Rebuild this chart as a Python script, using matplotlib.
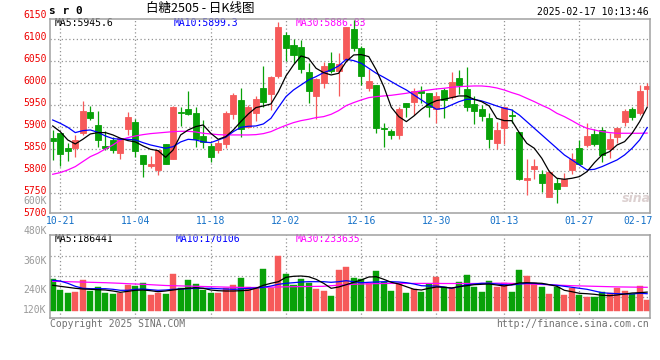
import matplotlib
matplotlib.use('Agg')
import matplotlib.pyplot as plt
import matplotlib.transforms as mtrans

plt.rcParams['font.family'] = ['DejaVu Sans Mono', 'Noto Sans CJK SC']

# ---------------- data ----------------
date_labels = ['10-21', '11-04', '11-18', '12-02', '12-16', '12-30', '01-13', '01-27', '02-17']
date_index = [1, 11, 21, 31, 41, 51, 60, 70, 79]

opens = [5875, 5888, 5854, 5852, 5888, 5934, 5905, 5858, 5870, 5841,
         5897, 5912, 5837, 5811, 5802, 5861, 5829, 5935, 5942, 5932,
         5880, 5858, 5849, 5861, 5930, 5962, 5900, 5932, 5989, 5976,
         6017, 6110, 6087, 6083, 6026, 5972, 6000, 6045, 6027, 6055,
         6123, 6081, 5990, 5996, 5898, 5892, 5883, 5955, 5958, 5983,
         5977, 5941, 5985, 5968, 6012, 5987, 5953, 5942, 5922, 5864,
         5898, 5929, 5889, 5781, 5806, 5794, 5742, 5773, 5767, 5802,
         5853, 5860, 5884, 5894, 5850, 5879, 5911, 5942, 5933, 5987]
closes = [5868, 5839, 5845, 5871, 5937, 5920, 5870, 5854, 5848, 5875,
          5923, 5845, 5817, 5817, 5849, 5817, 5945, 5933, 5931, 5874,
          5866, 5833, 5864, 5932, 5973, 5897, 5945, 5964, 5958, 6014,
          6127, 6081, 6064, 6033, 5983, 6010, 6039, 6029, 6043, 6127,
          6081, 6017, 6005, 5899, 5895, 5883, 5942, 5945, 5983, 5977,
          5945, 5971, 5961, 6003, 5995, 5947, 5936, 5926, 5873, 5894,
          5947, 5926, 5783, 5785, 5812, 5774, 5799, 5759, 5782, 5827,
          5817, 5880, 5861, 5838, 5873, 5898, 5936, 5924, 5983, 5994]
highs = [5894, 5888, 5864, 5883, 5960, 5949, 5938, 5892, 5879, 5875,
         5935, 5918, 5837, 5835, 5849, 5862, 5948, 5945, 5983, 5945,
         5917, 5864, 5871, 5937, 5977, 5990, 5950, 5970, 6039, 6017,
         6140, 6117, 6100, 6099, 6045, 6011, 6049, 6070, 6068, 6129,
         6144, 6085, 6032, 5996, 5909, 5895, 5945, 5955, 5989, 5994,
         5977, 5981, 5989, 6025, 6030, 6037, 5971, 5950, 5932, 5913,
         5949, 5941, 5889, 5827, 5829, 5803, 5803, 5784, 5795, 5841,
         5871, 5910, 5896, 5900, 5886, 5900, 5942, 5947, 5996, 6000]
lows = [5826, 5813, 5824, 5833, 5883, 5917, 5856, 5848, 5842, 5827,
        5883, 5833, 5788, 5807, 5792, 5817, 5829, 5903, 5928, 5856,
        5852, 5820, 5841, 5854, 5918, 5879, 5898, 5915, 5947, 5939,
        6011, 6051, 6047, 6024, 5955, 5918, 5989, 6023, 5970, 6049,
        6074, 5995, 5983, 5886, 5856, 5873, 5873, 5924, 5928, 5956,
        5924, 5909, 5922, 5964, 5976, 5936, 5907, 5914, 5854, 5850,
        5861, 5909, 5780, 5745, 5783, 5753, 5742, 5727, 5767, 5794,
        5817, 5856, 5858, 5822, 5830, 5864, 5902, 5917, 5927, 5948]

ma5 = [5903.0, 5890.1, 5871.2, 5862.1, 5872.7, 5884.8, 5887.9, 5887.9, 5882.6, 5875.0,
       5869.7, 5866.7, 5857.6, 5850.0, 5847.0, 5831.8, 5848.5, 5882.6, 5893.9, 5901.5,
       5905.3, 5886.4, 5872.7, 5878.8, 5893.9, 5912.9, 5930.3, 5944.7, 5948.5, 5953.0,
       5981.1, 6016.7, 6041.7, 6062.1, 6056.8, 6034.1, 6024.2, 6018.9, 6022.7, 6049.2,
       6064.4, 6065.2, 6060.6, 6030.3, 5992.4, 5945.4, 5924.2, 5912.9, 5925.7, 5940.9,
       5953.0, 5960.6, 5963.6, 5967.4, 5971.2, 5971.2, 5963.6, 5958.3, 5948.5, 5920.4,
       5915.1, 5915.1, 5887.9, 5863.6, 5852.3, 5829.5, 5799.2, 5784.1, 5781.8, 5784.1,
       5787.9, 5799.2, 5819.7, 5837.1, 5844.7, 5859.8, 5867.4, 5886.4, 5912.9, 5945.6]
ma10 = [5916.6, 5909.1, 5900.0, 5887.9, 5892.4, 5893.9, 5888.6, 5880.3, 5874.2, 5872.7,
        5872.7, 5871.2, 5865.1, 5859.8, 5856.0, 5852.3, 5856.0, 5866.7, 5872.7, 5871.2,
        5866.7, 5865.1, 5871.2, 5877.3, 5890.1, 5900.0, 5902.3, 5903.0, 5907.6, 5920.4,
        5945.4, 5969.7, 5984.8, 5996.2, 6007.6, 6015.2, 6024.2, 6030.3, 6039.4, 6054.5,
        6051.5, 6045.5, 6034.1, 6022.7, 6013.6, 6003.8, 5993.9, 5984.8, 5973.5, 5962.1,
        5950.8, 5940.9, 5943.2, 5950.8, 5958.3, 5963.6, 5963.6, 5959.9, 5954.5, 5948.5,
        5943.2, 5939.4, 5928.0, 5912.9, 5897.7, 5882.6, 5867.4, 5852.3, 5837.1, 5825.8,
        5814.4, 5803.0, 5804.5, 5810.6, 5818.2, 5825.8, 5837.1, 5852.3, 5871.2, 5899.3]
ma30 = [5793.2, 5797.0, 5803.0, 5810.6, 5822.0, 5833.3, 5840.9, 5850.8, 5859.8, 5871.2,
        5876.5, 5880.3, 5883.3, 5885.6, 5887.1, 5888.6, 5890.1, 5890.9, 5890.9, 5889.4,
        5886.4, 5884.8, 5883.3, 5882.6, 5882.6, 5882.6, 5882.6, 5883.3, 5885.6, 5890.1,
        5897.7, 5904.5, 5910.6, 5915.1, 5918.2, 5922.0, 5924.2, 5929.5, 5937.9, 5949.2,
        5956.1, 5962.1, 5967.4, 5969.7, 5971.2, 5972.7, 5975.0, 5977.3, 5980.3, 5982.6,
        5984.8, 5987.1, 5988.6, 5990.9, 5992.4, 5993.2, 5993.9, 5993.9, 5992.4, 5989.4,
        5984.8, 5978.8, 5973.5, 5965.9, 5958.3, 5950.0, 5942.4, 5931.8, 5924.2, 5915.1,
        5905.3, 5897.7, 5893.9, 5890.1, 5887.9, 5886.4, 5886.4, 5886.4, 5886.4, 5886.83]

# volume in thousands of lots
volumes = [320, 210, 180, 190, 310, 200, 237, 180, 170, 174,
           260, 247, 277, 157, 180, 167, 370, 230, 307, 267,
           207, 180, 180, 224, 257, 324, 240, 224, 417, 224,
           550, 367, 257, 314, 280, 217, 197, 147, 407, 440,
           324, 314, 280, 397, 290, 197, 274, 180, 217, 190,
           264, 340, 240, 230, 290, 357, 240, 190, 300, 240,
           280, 190, 407, 350, 280, 240, 167, 240, 157, 224,
           157, 140, 140, 190, 180, 224, 197, 167, 247, 107]
vol_ma5 = [254, 244, 234, 224, 217, 214, 210, 207, 197, 184,
           194, 204, 207, 200, 190, 197, 207, 217, 224, 230,
           224, 207, 200, 197, 197, 200, 204, 224, 254, 274,
           290, 334, 344, 347, 340, 314, 274, 224, 237, 260,
           284, 307, 337, 340, 314, 284, 267, 240, 214, 207,
           224, 237, 234, 227, 240, 250, 260, 264, 267, 257,
           247, 260, 277, 280, 277, 274, 260, 244, 204, 190,
           174, 170, 164, 154, 150, 157, 167, 177, 180, 186]
vol_ma10 = [304, 297, 274, 244, 224, 220, 220, 220, 214, 204,
            204, 214, 217, 210, 204, 207, 214, 217, 220, 224,
            224, 224, 220, 217, 214, 217, 224, 227, 234, 247,
            264, 274, 280, 287, 290, 290, 290, 284, 290, 300,
            290, 280, 284, 287, 290, 290, 287, 280, 267, 250,
            247, 247, 237, 224, 240, 260, 267, 274, 274, 267,
            260, 257, 267, 274, 274, 267, 260, 254, 244, 234,
            224, 214, 197, 180, 174, 170, 167, 167, 174, 170]
vol_ma30 = [294, 292, 290, 288, 286, 284, 282, 280, 277, 274,
            270, 267, 264, 260, 256, 252, 250, 248, 246, 244,
            242, 240, 238, 236, 234, 233, 232, 232, 233, 235,
            237, 239, 240, 241, 242, 243, 244, 250, 255, 260,
            264, 267, 269, 271, 272, 273, 273, 273, 273, 273,
            273, 273, 272, 272, 272, 272, 272, 273, 274, 275,
            275, 273, 271, 268, 265, 262, 259, 256, 253, 250,
            248, 246, 244, 242, 240, 238, 237, 236, 235, 234]

price_labels = [6150, 6100, 6050, 6000, 5950, 5900, 5850, 5800, 5750, 5700]
vol_tick_values = [10, 207, 500]
vol_tick_labels = ['120K', '240K', '360K']
vol_extra_values = [800, 1097]
vol_extra_labels = ['480K', '600K']

title = '白糖2505 - 日K线图'
symbol = 's r 0'
stamp = '2025-02-17 10:13:46'
ma_price_text = ['MA5:5945.6', 'MA10:5899.3', 'MA30:5886.83']
ma_vol_text = ['MA5:186441', 'MA10:170106', 'MA30:233635']

# ---------------- style ----------------
RED = '#f65a5a'
GREEN = '#08a108'
GRID = '#939393'
SPINE = '#a0a0a0'
W, H = 660, 360

fig = plt.figure(figsize=(6.6, 3.6), dpi=100)
fig.patch.set_facecolor('white')


def rect(l, t, r, b):
    return [l / W, 1 - b / H, (r - l) / W, (b - t) / H]


axp = fig.add_axes(rect(50, 19, 649.5, 213.3))
axv = fig.add_axes(rect(50, 234.7, 649.5, 318))

n = len(closes)
xs = list(range(n))
for ax in (axp, axv):
    ax.set_xlim(-0.36, 79.31)
    ax.set_xticks([])
    ax.set_yticks([])
    for s in ax.spines.values():
        s.set_color(SPINE)
        s.set_linewidth(1.1)
    for i in date_index[:-1]:
        ax.axvline(i, color=GRID, lw=0.9, ls=(0, (1, 2)), zorder=0)

axp.set_ylim(5704.5, 6146.1)
axv.set_ylim(-73, 760)

for v in [6100, 6050, 6000, 5950, 5900, 5850, 5800, 5750]:
    axp.axhline(v, color=GRID, lw=0.9, ls=(0, (1, 2)), zorder=0)
for v in [552, 344, 135]:
    axv.axhline(v, color=GRID, lw=0.9, ls=(0, (1, 2)), zorder=0)

colors = [RED if c >= o else GREEN for o, c in zip(opens, closes)]
bottoms = [min(o, c) for o, c in zip(opens, closes)]
heights = [abs(c - o) for o, c in zip(opens, closes)]

axp.vlines(xs, lows, highs, colors=colors, lw=0.9, zorder=2)
axp.bar(xs, heights, bottom=bottoms, width=0.8, color=colors,
        edgecolor=colors, linewidth=0.6, zorder=2)
axp.plot(xs, ma30, color='#ff00ff', lw=0.9, zorder=3)
axp.plot(xs, ma10, color='#0000ff', lw=0.9, zorder=3)
axp.plot(xs, ma5, color='black', lw=0.9, zorder=3)

axv.bar(xs, volumes, width=0.8, color=colors, edgecolor=colors, linewidth=0.3, zorder=2)
axv.plot(xs, vol_ma30, color='#ff00ff', lw=0.9, zorder=3)
axv.plot(xs, vol_ma10, color='#0000ff', lw=0.9, zorder=3)
axv.plot(xs, vol_ma5, color='black', lw=0.9, zorder=3)

# price axis labels
tp = mtrans.blended_transform_factory(axp.transAxes, axp.transData) + \
    mtrans.ScaledTranslation(-0.035, 0.02, fig.dpi_scale_trans)
for v in price_labels:
    axp.text(0, v, str(v), transform=tp, ha='right', va='center',
             color='#ee0000', fontsize=7, clip_on=False)

# volume axis labels
tv = mtrans.blended_transform_factory(axv.transAxes, axv.transData) + \
    mtrans.ScaledTranslation(-0.035, 0.0, fig.dpi_scale_trans)
for v, lab in zip(vol_tick_values + vol_extra_values, vol_tick_labels + vol_extra_labels):
    axv.text(0, v, lab, transform=tv, ha='right', va='center',
             color='#9a9a9a', fontsize=7, clip_on=False)

# date labels
tx = mtrans.blended_transform_factory(axp.transData, axp.transAxes) + \
    mtrans.ScaledTranslation(0, -0.077, fig.dpi_scale_trans)
for i, lab in zip(date_index[:-1], date_labels[:-1]):
    axp.text(i, 0, lab, transform=tx, ha='center', va='center',
             color='#1370c8', fontsize=7, clip_on=False)
axp.text(0.981, 0, date_labels[-1], transform=axp.transAxes +
         mtrans.ScaledTranslation(0, -0.077, fig.dpi_scale_trans),
         ha='center', va='center', color='#1370c8', fontsize=7, clip_on=False)

# MA headers
for xf, txt, col in zip([0.0072, 0.207, 0.409], ma_price_text, ['black', '#0000ff', '#ff00ff']):
    axp.text(xf, 0.977, txt, transform=axp.transAxes, ha='left', va='center',
             color=col, fontsize=7, zorder=1.5)
for xf, txt, col in zip([0.008, 0.209, 0.41], ma_vol_text, ['black', '#0000ff', '#ff00ff']):
    axv.text(xf, 0.948, txt, transform=axv.transAxes, ha='left', va='center',
             color=col, fontsize=7, zorder=1.5)

# header texts
fig.text(49 / W, 1 - 11.5 / H, symbol, ha='left', va='center', fontsize=8,
         fontweight='bold', color='black')
fig.text(200 / W, 1 - 8 / H, title, ha='center', va='center', fontsize=9,
         family=['Noto Sans CJK SC', 'DejaVu Sans'], color='black')
fig.text(649 / W, 1 - 12 / H, stamp, ha='right', va='center', fontsize=7, color='black')

# footer
fig.text(50 / W, 1 - 324 / H, 'Copyright 2025 SINA.COM', ha='left', va='center',
         fontsize=7, color='#707070')
fig.text(649 / W, 1 - 324 / H, 'http://finance.sina.com.cn', ha='right', va='center',
         fontsize=7, color='#707070')

# watermark
fig.text(636 / W, 1 - 198 / H, 'sina', ha='center', va='center', fontsize=9,
         fontstyle='italic', fontweight='bold', color='#dcd0d0',
         family=['DejaVu Sans'])

fig.savefig('out.png', dpi=100)
